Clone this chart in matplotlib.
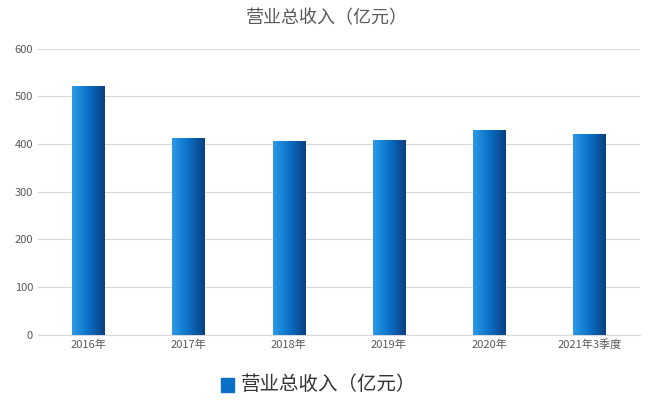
import matplotlib
matplotlib.use("Agg")
import matplotlib.pyplot as plt
import numpy as np
from matplotlib.colors import LinearSegmentedColormap

plt.rcParams['font.family'] = ['Noto Sans CJK SC', 'DejaVu Sans']

categories = ["2016年", "2017年", "2018年", "2019年", "2020年", "2021年3季度"]
values = [521, 412, 406, 408, 429, 421]

fig = plt.figure(figsize=(6.54, 4.15), dpi=100)
ax = fig.add_axes([0.058, 0.193, 0.92, 0.69])
cmap = LinearSegmentedColormap.from_list("g", ["#2a9be8", "#0a6fc6", "#0b3f80"])
x = np.arange(len(categories))
bars = ax.bar(x, values, width=0.32, color="#0a6fc6")
grad = np.linspace(0, 1, 256).reshape(1, -1)
for b in bars:
    bx, by, bw, bh = b.get_x(), b.get_y(), b.get_width(), b.get_height()
    im = ax.imshow(grad, extent=[bx, bx + bw, by, by + bh], aspect='auto', cmap=cmap, zorder=3)
    im.set_clip_path(b)
ax.set_xlim(-0.5, len(categories) - 0.5)
ax.set_ylim(0, 600)
ax.set_yticks(range(0, 601, 100))
ax.set_xticks(x)
ax.set_xticklabels(categories)
ax.tick_params(length=0, labelsize=8, colors="#595959")
ax.grid(axis='y', color="#d9d9d9", linewidth=0.8)
ax.set_axisbelow(True)
for s in ["top", "right", "left"]:
    ax.spines[s].set_visible(False)
ax.spines["bottom"].set_color("#d9d9d9")
fig.text(0.5, 0.955, "营业总收入（亿元）", ha='center', va='center', fontsize=13, color="#595959")
fig.patches.append(plt.Rectangle((0.338, 0.055), 0.02, 0.035, transform=fig.transFigure, color="#0a6fc6"))
fig.text(0.368, 0.073, "营业总收入（亿元）", ha='left', va='center', fontsize=14, color="#333333")
fig.savefig("out.png", dpi=100)
